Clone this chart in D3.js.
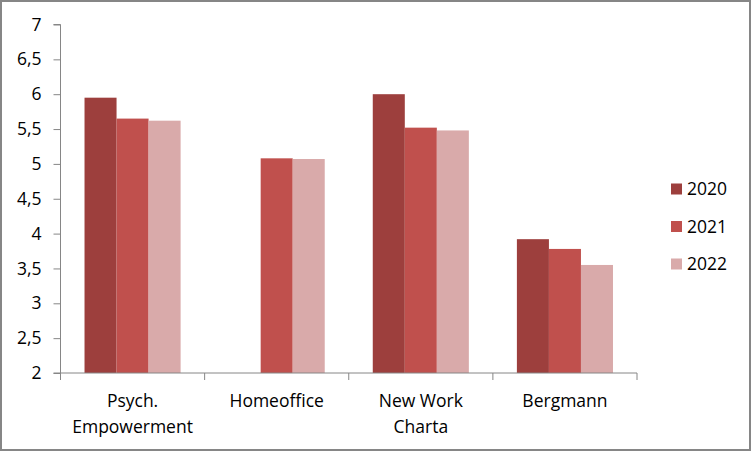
<!DOCTYPE html>
<html><head><meta charset="utf-8">
<script src="https://cdn.jsdelivr.net/npm/d3@7"></script>
<style>body{margin:0;background:#fff}svg{display:block}text{font-family:"Open Sans",sans-serif;fill:#000}</style>
</head><body>
<script>
const categories = [["Psych.","Empowerment"],["Homeoffice"],["New Work","Charta"],["Bergmann"]];
const seriesNames = ["2020","2021","2022"];
const v2020 = [5.95, null, 6.0, 3.92];
const v2021 = [5.65, 5.08, 5.52, 3.78];
const v2022 = [5.62, 5.07, 5.48, 3.55];
const yTicks = [2,2.5,3,3.5,4,4.5,5,5.5,6,6.5,7];
const colors = ["#9D3F3D","#C0504D","#D9AAAA"];
const series = [v2020, v2021, v2022];

(function(){
const W=752,H=452, FS="17.5px";
const svg=d3.select("body").append("svg").attr("width",W).attr("height",H);
svg.append("rect").attr("x",1).attr("y",1).attr("width",W-3).attr("height",H-3)
  .attr("fill","#fff").attr("stroke","#868686").attr("stroke-width",2);

const pL=60.5,pR=637,pT=24.5,pB=373;
const catIdx=categories.map((d,i)=>i);
const x=d3.scaleBand().domain(catIdx).range([pL,pR]).paddingInner(0).paddingOuter(0);
const x1=d3.scaleBand().domain(seriesNames).range([0,x.bandwidth()]).paddingOuter(0.75).paddingInner(0);
const y=d3.scaleLinear().domain([2,7]).range([pB,pT]);

series.forEach((vals,si)=>{
  svg.append("g").selectAll("rect").data(vals.map((v,i)=>({v,i})).filter(d=>d.v!=null)).join("rect")
   .attr("x",d=>x(d.i)+x1(seriesNames[si])).attr("width",x1.bandwidth())
   .attr("y",d=>y(d.v)).attr("height",d=>y(2)-y(d.v)).attr("fill",colors[si]);
});

const ya=svg.append("g").attr("transform",`translate(${pL},0)`)
  .call(d3.axisLeft(y).tickValues(yTicks).tickSize(7).tickPadding(12).tickFormat(d=>String(d).replace(".",",")));
ya.select(".domain").attr("stroke","#868686").attr("d",`M-7,${pT}H0V${pB}H-7`);
ya.selectAll(".tick line").attr("stroke","#868686");
ya.selectAll("text").style("font-size",FS).attr("fill","#000").style("font-family","'Open Sans',sans-serif");

const xa=svg.append("g").attr("transform",`translate(0,${pB})`);
xa.append("line").attr("x1",pL).attr("x2",pR).attr("stroke","#868686");
const bounds=catIdx.map(i=>x(i)).concat([pR]);
xa.selectAll("line.t").data(bounds).join("line").attr("class","t")
  .attr("x1",d=>d).attr("x2",d=>d).attr("y1",0).attr("y2",7).attr("stroke","#868686");
categories.forEach((lines,i)=>{
  const cx=x(i)+x.bandwidth()/2;
  const t=xa.append("text").attr("x",cx).attr("y",34)
    .attr("text-anchor","middle").style("font-size",FS);
  lines.forEach((l,k)=>t.append("tspan").attr("x",cx).attr("dy",k?26:0).text(l));
});

const lg=svg.append("g");
seriesNames.forEach((n,i)=>{
  const cy=189+i*37.5;
  lg.append("rect").attr("x",671).attr("y",cy-5.5).attr("width",11).attr("height",11).attr("fill",colors[i]);
  lg.append("text").attr("x",687).attr("y",cy).attr("dy","0.36em").style("font-size",FS).text(n);
});
})();
</script>
</body></html>
